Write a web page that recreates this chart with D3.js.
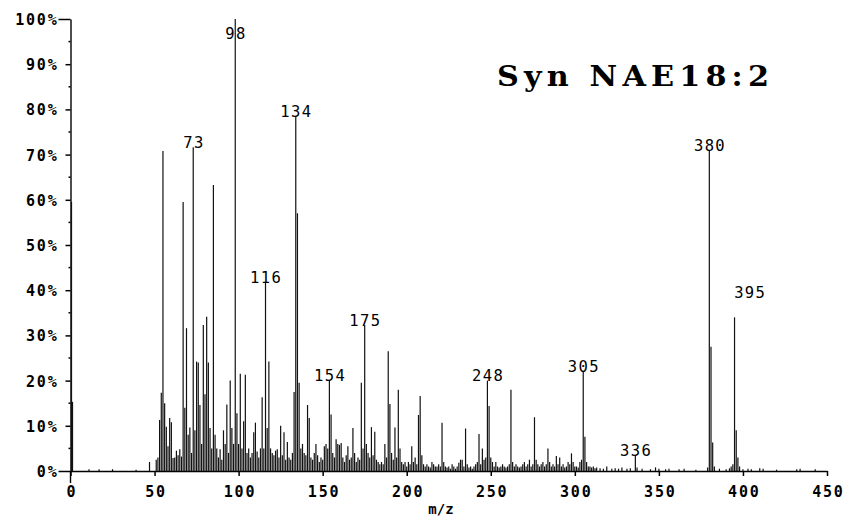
<!DOCTYPE html>
<html>
<head>
<meta charset="utf-8">
<script src="https://cdn.jsdelivr.net/npm/d3@7"></script>
<style>
  html, body { margin: 0; padding: 0; background: #fff; }
  svg { display: block; }
</style>
</head>
<body>
<svg id="chart" width="849" height="523"></svg>
<script>
// ---------------- DATA ----------------
const title = "Syn NAE18:2";
const xLabel = "m/z";
const xTicks = [0, 50, 100, 150, 200, 250, 300, 350, 400, 450];
const yTicks = [0, 10, 20, 30, 40, 50, 60, 70, 80, 90, 100];
const yMinorTicks = [5, 15, 25, 35, 45, 55, 65, 75, 85, 95];

const masses = [
  0.6, 1.2, 11, 17, 25, 39, 47, 51, 52, 53, 54, 55, 56, 57, 58, 59, 60, 61, 62, 63, 64, 65, 66, 67, 68, 69,
  70, 71, 72, 73, 74, 75, 76, 77, 78, 79, 80, 81, 82, 83, 84, 85, 86, 87, 88, 89, 90, 91, 92, 93, 94, 95,
  96, 97, 98, 99, 100, 101, 102, 103, 104, 105, 106, 107, 108, 109, 110, 111, 112, 113, 114, 115, 116,
  117, 118, 119, 120, 121, 122, 123, 124, 125, 126, 127, 128, 129, 130, 131, 132, 133, 134, 135, 136,
  137, 138, 139, 140, 141, 142, 143, 144, 145, 146, 147, 148, 149, 150, 151, 152, 153, 154, 155, 156,
  157, 158, 159, 160, 161, 162, 163, 164, 165, 166, 167, 168, 169, 170, 171, 172, 173, 174, 175, 176,
  177, 178, 179, 180, 181, 182, 183, 184, 185, 186, 187, 188, 189, 190, 191, 192, 193, 194, 195, 196,
  197, 198, 199, 200, 201, 202, 203, 204, 205, 206, 207, 208, 209, 210, 211, 212, 213, 214, 215, 216,
  217, 218, 219, 220, 221, 222, 223, 224, 225, 226, 227, 228, 229, 230, 231, 232, 233, 234, 235, 236,
  237, 238, 239, 240, 241, 242, 243, 244, 245, 246, 247, 248, 249, 250, 251, 252, 253, 254, 255, 256,
  257, 258, 259, 260, 261, 262, 263, 264, 265, 266, 267, 268, 269, 270, 271, 272, 273, 274, 275, 276,
  277, 278, 279, 280, 281, 282, 283, 284, 285, 286, 287, 288, 289, 290, 291, 292, 293, 294, 295, 296,
  297, 298, 299, 300, 301, 302, 303, 304, 305, 306, 307, 308, 309, 310, 311, 312, 313, 315, 317, 319,
  322, 324, 326, 328, 331, 333, 336, 337, 340, 345, 348, 350, 354, 356, 362, 365, 372, 379, 380, 381,
  382, 383, 386, 390, 392, 393, 394, 395, 396, 397, 398, 400, 403, 405, 410, 412, 420, 432, 434, 443
];
const intensities = [
  59.5, 15.3, 0.4, 0.4, 0.4, 0.3, 2.0, 2.5, 3.0, 11.3, 17.3, 70.8, 15.0, 9.8, 5.5, 11.7, 10.8, 2.9, 3.0, 4.5, 3.5, 4.8, 3.2, 59.5, 14.0, 31.6,
  8.0, 9.6, 4.0, 71.6, 9.0, 24.2, 24.0, 14.6, 6.0, 32.3, 17.0, 34.1, 24.0, 9.5, 5.0, 63.3, 8.0, 5.0, 3.0, 4.8, 2.5, 9.0, 6.0, 14.7, 4.0, 20.0,
  9.5, 6.0, 100, 12.8, 6.0, 21.5, 5.0, 11.0, 21.3, 4.0, 5.0, 3.0, 4.0, 8.6, 10.7, 4.3, 3.0, 5.0, 16.3, 5.0, 41.8,
  9.5, 24.2, 5.0, 4.0, 3.5, 4.5, 4.8, 3.0, 10.0, 3.5, 8.6, 2.5, 6.4, 3.0, 2.5, 4.0, 17.5, 78.5, 57.0, 19.5,
  5.0, 6.0, 4.0, 3.5, 14.6, 11.7, 3.0, 2.5, 4.0, 6.0, 3.5, 2.0, 3.0, 2.5, 5.5, 6.0, 5.0, 20.0, 12.5, 4.0,
  3.0, 7.0, 6.0, 5.8, 6.2, 3.0, 2.0, 3.5, 5.5, 2.5, 3.0, 9.5, 4.0, 2.0, 3.0, 2.5, 19.5, 5.0, 32.3, 6.0,
  4.0, 3.0, 9.7, 3.5, 8.7, 2.5, 2.0, 1.5, 2.0, 1.5, 6.0, 3.0, 26.5, 14.8, 4.0, 2.5, 9.6, 3.0, 18.0, 5.0,
  2.0, 1.5, 2.0, 1.0, 2.0, 1.5, 5.5, 2.0, 3.0, 1.5, 12.4, 16.6, 3.5, 1.5, 1.0, 1.5, 1.0, 0.8, 2.0, 1.5,
  1.0, 1.0, 1.5, 1.0, 10.7, 2.0, 1.0, 0.8, 1.0, 0.5, 1.5, 1.0, 0.5, 1.0, 1.8, 2.5, 2.5, 1.0, 9.4, 1.5,
  0.8, 1.0, 0.5, 1.0, 1.5, 2.0, 8.2, 1.5, 5.0, 2.5, 3.0, 20.0, 14.4, 3.0, 2.0, 1.0, 2.0, 1.0, 0.8, 1.0,
  1.5, 1.0, 0.8, 1.0, 1.5, 18.0, 2.0, 1.0, 1.5, 1.0, 0.8, 1.0, 1.5, 2.0, 1.0, 1.5, 2.5, 1.0, 1.5, 11.9,
  2.5, 1.5, 1.0, 1.5, 2.0, 1.0, 1.5, 5.0, 2.0, 1.0, 1.5, 1.0, 3.3, 1.5, 3.0, 1.0, 1.5, 0.8, 1.0, 2.0,
  1.5, 3.9, 2.0, 1.0, 1.0, 0.8, 2.0, 2.5, 22.1, 7.6, 2.0, 1.0, 1.0, 0.8, 1.0, 0.6, 0.8, 0.6, 0.5, 1.0,
  0.5, 0.6, 0.5, 0.8, 0.5, 0.6, 3.5, 0.8, 0.5, 0.4, 0.8, 0.5, 0.4, 0.5, 0.4, 0.5, 0.3, 0.8, 70.8, 27.5,
  6.3, 1.0, 0.5, 0.4, 0.6, 1.0, 1.5, 34.0, 9.0, 3.0, 1.0, 0.4, 0.5, 0.4, 0.6, 0.5, 0.3, 0.4, 0.5, 0.4
];

const labelMasses = [73, 98, 116, 134, 154, 175, 248, 305, 336, 380, 395];

// ---------------- LAYOUT ----------------
const svg = d3.select("#chart");
const x = d3.scaleLinear().domain([0, 450]).range([70.5, 827]);
const y = d3.scaleLinear().domain([0, 100]).range([471, 19]);
const monoFont = "'DejaVu Sans Mono', 'Liberation Mono', monospace";
const labelNudge = { 98: { dx: 0, dy: 19 }, 395: { dx: 15, dy: -20 } };

const peaks = masses.map((m, i) => ({ m, v: intensities[i] }));

// y axis
const yAxis = d3.axisLeft(y).tickValues(yTicks).tickSize(5).tickSizeOuter(0).tickFormat(() => "");
const gy = svg.append("g").attr("transform", "translate(70.5,0)").call(yAxis);
gy.select(".domain").attr("stroke", "#000").attr("stroke-width", 1.4);
gy.selectAll(".tick line").attr("stroke", "#000").attr("stroke-width", 1.5)
  .attr("x2", d => (d === 100 || d === 0) ? -12 : -5);
gy.selectAll(".tick").append("text")
  .attr("x", -12).attr("dy", "0.36em")
  .attr("text-anchor", "end")
  .attr("fill", "#000")
  .style("font-family", monoFont).style("font-size", "15px").style("font-weight", "bold")
  .style("letter-spacing", "1.8px")
  .text(d => d + "%");
// minor y ticks
svg.append("g").selectAll("line").data(yMinorTicks).join("line")
  .attr("x1", 68.5).attr("x2", 70.5).attr("y1", d => y(d)).attr("y2", d => y(d))
  .attr("stroke", "#000").attr("stroke-width", 1.5);
// y axis extension below baseline
svg.append("line").attr("x1", 70.5).attr("x2", 70.5).attr("y1", y(0)).attr("y2", 483)
  .attr("stroke", "#000").attr("stroke-width", 1.4);

// x axis
const xAxis = d3.axisBottom(x).tickValues(xTicks).tickSize(5).tickSizeOuter(0).tickFormat(() => "");
const gx = svg.append("g").attr("transform", `translate(0,${y(0)})`).call(xAxis);
gx.select(".domain").attr("stroke", "#000").attr("stroke-width", 1.5);
gx.selectAll(".tick line").attr("stroke", "#000").attr("stroke-width", 1.5);
gx.selectAll(".tick").append("text")
  .attr("y", 26).attr("dx", "0.9px")
  .attr("text-anchor", "middle")
  .attr("fill", "#000")
  .style("font-family", monoFont).style("font-size", "15px").style("font-weight", "bold")
  .style("letter-spacing", "1.8px")
  .text(d => d);

// sticks
svg.append("g").selectAll("line").data(peaks).join("line")
  .attr("x1", d => x(d.m)).attr("x2", d => x(d.m))
  .attr("y1", y(0)).attr("y2", d => y(d.v))
  .attr("stroke", "#111")
  .attr("stroke-width", 1.2);

// peak labels
svg.append("g").selectAll("text").data(labelMasses).join("text")
  .attr("x", m => x(m) + 0.7 + (labelNudge[m] ? labelNudge[m].dx : 0))
  .attr("y", m => {
    const p = peaks.find(d => d.m === m);
    return y(p.v) + 0.5 + (labelNudge[m] ? labelNudge[m].dy : 0);
  })
  .attr("text-anchor", "middle")
  .attr("fill", "#000")
  .style("font-family", monoFont).style("font-size", "15.5px")
  .style("letter-spacing", "1.4px")
  .text(m => m);

// axis title
svg.append("text").attr("x", 441).attr("y", 514)
  .attr("text-anchor", "middle").attr("fill", "#000")
  .style("font-family", monoFont).style("font-size", "14px").style("font-weight", "bold")
  .text(xLabel);

// chart title (slightly widened glyphs, like the original's wide slab face)
svg.append("g").attr("transform", "translate(497,86) scale(1.08,1)")
  .append("text").attr("x", 0).attr("y", 0)
  .attr("textLength", 272 / 1.08).attr("lengthAdjust", "spacing")
  .attr("fill", "#000")
  .style("font-family", "'DejaVu Serif', serif").style("font-size", "28px").style("font-weight", "bold")
  .text(title);
</script>
</body>
</html>
